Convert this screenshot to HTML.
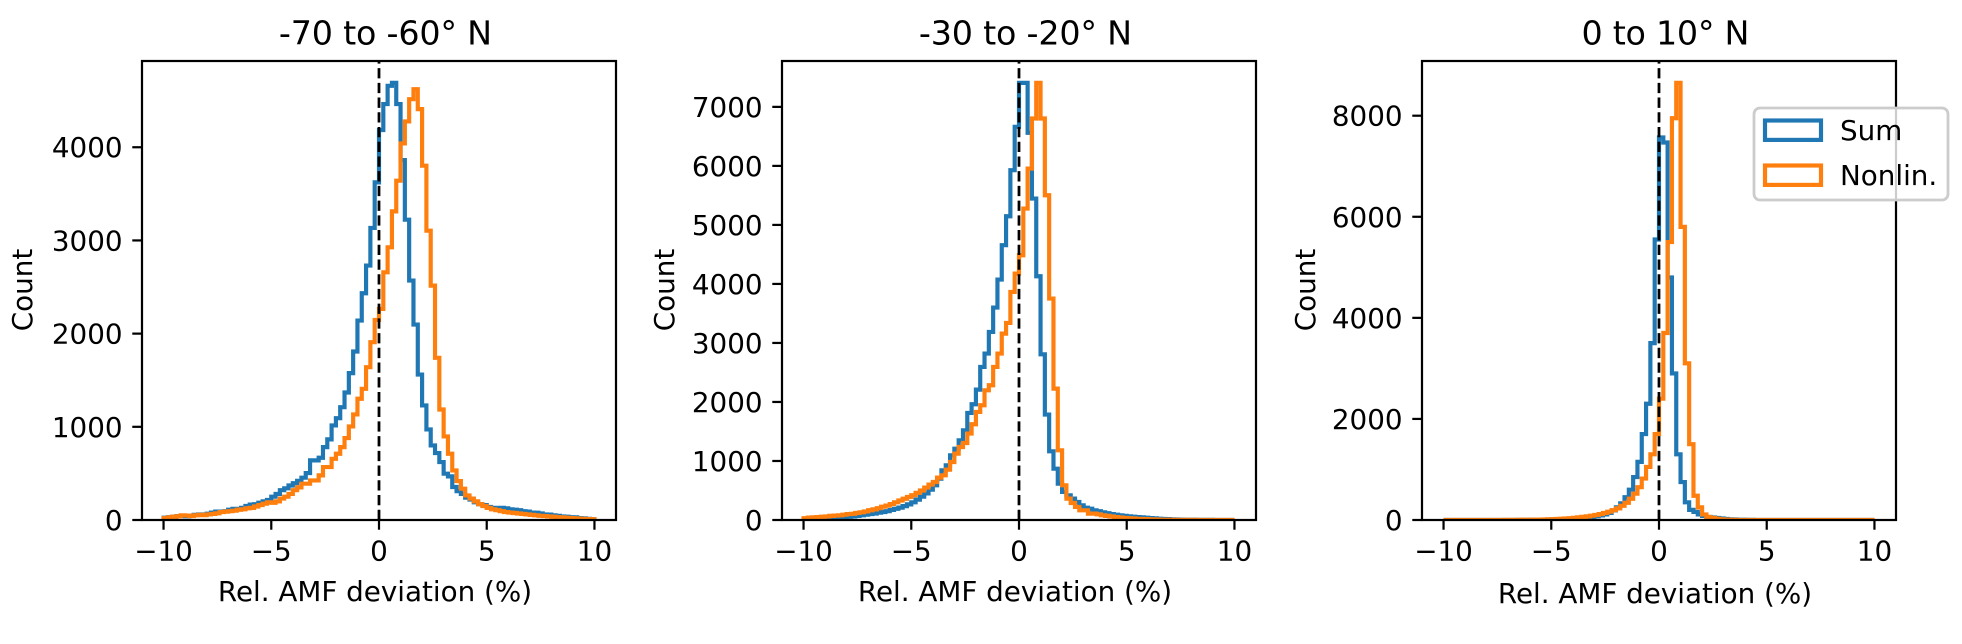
<!DOCTYPE html>
<html>
<head>
<meta charset="utf-8">
<title>Rel. AMF deviation histograms</title>
<style>
html,body{margin:0;padding:0;background:#fff;width:1962px;height:644px;overflow:hidden}
svg{display:block;font-family:"DejaVu Sans","Liberation Sans",sans-serif;fill:#000}
</style>
</head>
<body>
<svg id="fig" xmlns="http://www.w3.org/2000/svg" width="1962" height="644" viewBox="0 0 1962 644">
<rect x="0" y="0" width="1962" height="644" fill="#fff"/>
<g id="panels"></g>
<g>
<rect x="1754" y="108" width="194" height="92" rx="6" ry="6" fill="#fff" fill-opacity="0.8" stroke="#cccccc" stroke-width="2.78"/>
<rect x="1765" y="120.5" width="56" height="19.4" fill="none" stroke="#1f77b4" stroke-width="4.17"/>
<text x="1840" y="140" font-size="27.78">Sum</text>
<rect x="1765" y="165.5" width="56" height="19.4" fill="none" stroke="#ff7f0e" stroke-width="4.17"/>
<text x="1840" y="185" font-size="27.78">Nonlin.</text>
</g>
</svg>
<script>
const binStart = -10;
const binWidth = 0.2;
const xTicks = [-10, -5, 0, 5, 10];
const titles = ["-70 to -60\u00B0 N", "-30 to -20\u00B0 N", "0 to 10\u00B0 N"];
const xAxisLabel = "Rel. AMF deviation (%)";
const yAxisLabel = "Count";

const yTicksA = [0, 1000, 2000, 3000, 4000];
const yTicksB = [0, 1000, 2000, 3000, 4000, 5000, 6000, 7000];
const yTicksC = [0, 2000, 4000, 6000, 8000];

const sumA = [25,30,35,42,45,40,48,55,60,58,68,80,90,88,95,110,120,115,130,150,165,170,185,200,215,250,280,320,340,370,395,420,
454,504,640,640,668,782,865,1015,1093,1211,1368,1576,1808,2140,2433,2730,3134,3623,
4184,4463,4659,4691,4463,3862,3223,2569,2097,1561,1229,972,800,718,622,497,468,354,
310,280,240,220,190,170,160,140,130,120,130,125,115,110,105,95,90,80,78,70,60,58,50,45,38,35,30,28,20,18,12,8];
const nonlinA = [20,28,35,40,50,48,42,50,55,52,60,65,72,85,90,95,100,110,115,125,130,145,160,175,190,185,200,230,250,280,320,350,
390,390,425,425,479,568,568,657,711,782,879,1004,1133,1301,1408,1640,1908,2147,
2265,2658,2926,3312,3641,4041,4277,4516,4623,4409,3802,3105,2515,1740,1186,897,711,532,418,336,264,
230,200,170,150,130,115,105,95,85,80,75,70,65,60,55,50,45,42,38,35,30,28,25,20,18,15,12,10,8];

const sumB = [15,20,22,25,30,32,35,38,45,50,55,60,70,80,90,100,110,125,135,150,170,190,210,235,265,300,345,395,450,515,
588,701,842,927,1096,1209,1350,1520,1814,1961,2209,2594,2820,3187,3599,4074,4656,5147,5927,6662,
7407,7407,6560,5447,4130,2808,1786,1164,870,616,475,418,362,305,249,209,192,164,
150,130,115,100,90,80,70,62,55,50,45,38,32,28,22,18,15,12,10,8,6,5,4,3,3,2,2,1,1,1,1,0];
const nonlinB = [30,40,45,50,55,60,70,75,80,90,100,105,120,130,145,165,180,200,225,245,270,300,330,360,390,420,460,500,550,600,
644,718,757,853,983,1125,1237,1305,1464,1622,1831,1944,2198,2283,2594,2820,3158,3339,3865,4176,
4486,5277,5955,6803,7407,6803,5503,3752,2226,1181,588,362,288,221,164,164,108,108,96,
80,70,60,50,42,35,30,25,20,18,15,12,10,8,6,5,4,3,3,2,2,2,1,1,1,1,1,0,0,0,0];

const sumC = [0,0,0,0,0,0,1,0,0,1,1,1,1,1,2,2,2,3,3,4,5,6,7,8,10,
12,15,18,22,26,31,37,44,52,62,74,90,110,140,190,250,330,450,600,850,1150,1700,2300,3500,5550,
7570,7470,4800,2900,1300,750,350,200,160,110,80,60,50,40,30,20,14,10,7,5,
3,3,2,2,1,1,1,1,1,0,0,0,0,0,0,0,0,0,0,0,0,0,0,0,0,0,0,0,0,0];
const nonlinC = [0,0,0,0,0,1,0,1,1,1,1,2,2,2,3,3,4,4,5,6,7,8,9,11,13,
15,20,25,30,36,44,52,62,72,85,100,118,140,165,195,230,280,340,420,520,650,820,1050,1300,1700,
2400,3700,5500,7950,8650,5800,3100,1500,480,250,110,60,40,25,14,8,5,3,2,1,
1,1,0,1,0,0,1,0,0,0,0,0,0,0,0,0,0,0,0,0,0,0,0,0,0,0,0,0,0,0];

const NS = "http://www.w3.org/2000/svg";
const root = document.getElementById("panels");
const axTop = 61, axBottom = 520, axWidth = 474, axLefts = [142, 782, 1422];
const ylabelX = [22, 664, 1305];
const xLim = [-11, 11];
const fontTick = 27.78, lwSpine = 2.22, tickLen = 9.72, tickPad = 9.72;

function mk(tag, attrs, parent){
  const el = document.createElementNS(NS, tag);
  for (const k in attrs) el.setAttribute(k, attrs[k]);
  parent.appendChild(el);
  return el;
}
function drawSeries(parent, counts, color, sx, sy, clipId){
  let d = "M" + sx(binStart) + " " + sy(0);
  counts.forEach(function(v, i){
    const x0 = sx(binStart + i * binWidth), x1 = sx(binStart + (i + 1) * binWidth);
    d += "L" + x0.toFixed(2) + " " + sy(v).toFixed(2) + "L" + x1.toFixed(2) + " " + sy(v).toFixed(2);
  });
  d += "L" + sx(binStart + counts.length * binWidth).toFixed(2) + " " + sy(0);
  return mk("path", {d: d, fill: "none", stroke: color, "stroke-width": 4.17, "stroke-linejoin": "miter", "clip-path": "url(#" + clipId + ")"}, parent);
}
function drawPanel(idx, sum, nonlin, yTicks){
  const left = axLefts[idx], right = left + axWidth;
  const yMax = 1.05 * Math.max.apply(null, sum.concat(nonlin));
  const sx = function(v){ return left + (v - xLim[0]) / (xLim[1] - xLim[0]) * axWidth; };
  const sy = function(v){ return axBottom - v / yMax * (axBottom - axTop); };
  const g = mk("g", {}, root);
  
  
  const clipId = "clip" + idx;
  const cp = mk("clipPath", {id: clipId}, g);
  mk("rect", {x: left, y: axTop, width: axWidth, height: axBottom - axTop}, cp);

  const s1 = drawSeries(g, sum, "#1f77b4", sx, sy, clipId);
  
  
  const s2 = drawSeries(g, nonlin, "#ff7f0e", sx, sy, clipId);
  
  

  const zero = mk("line", {x1: sx(0), x2: sx(0), y1: axBottom, y2: axTop, stroke: "#000", "stroke-width": 2.78, "stroke-dasharray": "10.28 4.44"}, g);
  
  

  xTicks.forEach(function(t){
    const tk = mk("line", {x1: sx(t), x2: sx(t), y1: axBottom, y2: axBottom + tickLen, stroke: "#000", "stroke-width": lwSpine}, g);
    
    
    const lb = mk("text", {x: sx(t), y: axBottom + tickLen + tickPad + 21, "font-size": fontTick, "text-anchor": "middle"}, g);
    
    
    lb.textContent = (t < 0 ? "\u2212" + Math.abs(t) : String(t));
  });
  yTicks.forEach(function(t){
    const tk = mk("line", {x1: left - tickLen, x2: left, y1: sy(t), y2: sy(t), stroke: "#000", "stroke-width": lwSpine}, g);
    
    
    const lb = mk("text", {x: left - tickLen - tickPad, y: sy(t) + 10, "font-size": fontTick, "text-anchor": "end"}, g);
    
    
    lb.textContent = String(t);
  });

  const frame = mk("rect", {x: left, y: axTop, width: axWidth, height: axBottom - axTop, fill: "none", stroke: "#000", "stroke-width": lwSpine}, g);
  
  

  const title = mk("text", {x: left + axWidth / 2 + 6.5, y: 44.5, "font-size": 33.33, "text-anchor": "middle"}, g);
  
  
  title.textContent = titles[idx];
  title.setAttribute("textLength", (title.getComputedTextLength() - 2.5).toFixed(2));

  const xl = mk("text", {x: left + axWidth / 2 - 4, y: idx === 2 ? 603 : 601, "font-size": fontTick, "text-anchor": "middle"}, g);
  
  
  xl.textContent = xAxisLabel;

  const yl = mk("text", {x: 0, y: 0, "font-size": fontTick, "text-anchor": "middle", transform: "translate(" + (ylabelX[idx] + 10) + " 290) rotate(-90)"}, g);
  
  
  yl.textContent = yAxisLabel;
}
drawPanel(0, sumA, nonlinA, yTicksA);
drawPanel(1, sumB, nonlinB, yTicksB);
drawPanel(2, sumC, nonlinC, yTicksC);
</script>
</body>
</html>
